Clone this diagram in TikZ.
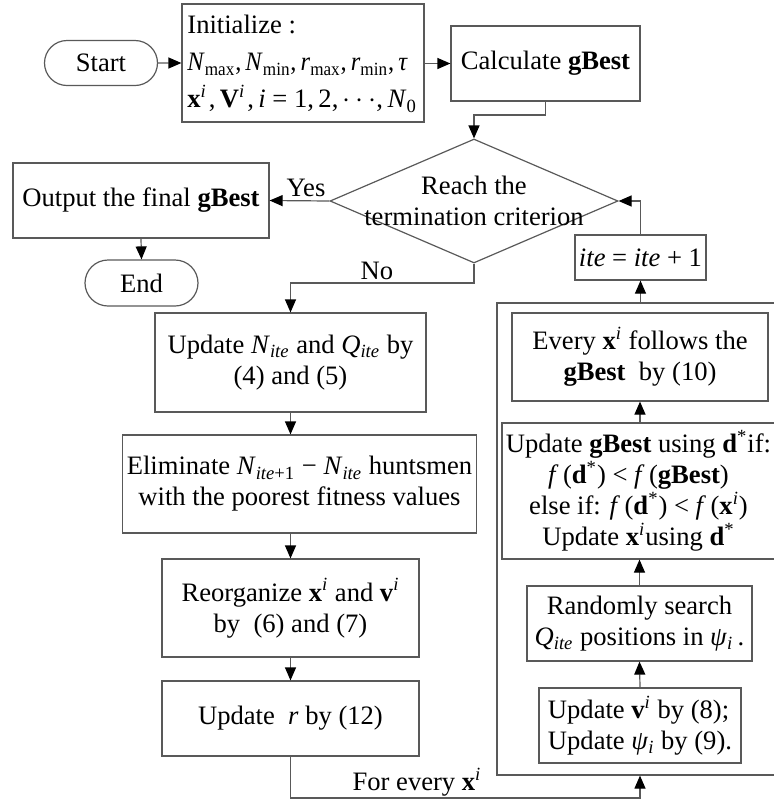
\documentclass[tikz,border=0pt]{standalone}
\usepackage{fontspec}
\usepackage{graphicx}
\setmainfont{Liberation Serif}
\usetikzlibrary{arrows.meta,shapes.misc,shapes.geometric}

% inline notation helpers
\newcommand{\mi}[1]{\textit{#1}}
\newcommand{\bx}{\textbf{x}}
\newcommand{\sps}[1]{\textsuperscript{#1}}
\newcommand{\sbs}[1]{\textsubscript{#1}}

\tikzset{
  lines/.style={draw=black!65, line width=0.6pt},
  box/.style={lines, rectangle, inner sep=2pt, align=center},
  term/.style={lines, rounded rectangle, inner sep=0pt},
  arr/.style={lines, -{Triangle[length=6.5pt,width=5.5pt,color=black]}},
  lbl/.style={inner sep=0pt},
}

\begin{document}
\begin{tikzpicture}[x=0.5pt, y=-0.5pt,
  every node/.append style={font=\fontsize{13.3}{15.5}\selectfont}]
\useasboundingbox (0,0) rectangle (774,804);
\clip (0,0) rectangle (774,804);

% top row
\node[term, minimum width=56.5pt, minimum height=22.5pt] (start) at (101,63) {Start};
\node[lines, rectangle, minimum width=121pt, minimum height=59pt, inner sep=0pt] (init) at (303,63) {};
\node[lbl, anchor=west, align=left] (initt) at (187,64)
  {Initialize :\\[3pt]
   \scalebox{0.92}[1]{\mi{N}\sbs{max},\,\mi{N}\sbs{min},\,\mi{r}\sbs{max},\,\mi{r}\sbs{min},\,\mi{τ}}\\[3pt]
   \bx\sps{\mi{i}}\kern1pt,\,\textbf{V}\sps{\mi{i}}\kern1pt,\,\mi{i} = 1,\,2,\,$\cdots$,\,\mi{N}\sbs{0}};
\node[box, minimum width=94.5pt, minimum height=37.5pt] (calc) at (545.5,63.5) {Calculate \textbf{gBest}};

% decision
\node[lines, diamond, minimum width=144pt, minimum height=62pt, inner sep=0pt] (dec) at (474,201) {};
\node[lbl, align=center] (dect) at (474,201) {Reach the\\termination criterion};

% exit branch
\node[box, minimum width=128pt, minimum height=37.5pt] (out) at (141,200.5) {Output the final \textbf{gBest}};
\node[term, minimum width=56.5pt, minimum height=23pt] (end) at (141.5,283) {End};

% left column
\node[box, minimum width=135.5pt, minimum height=49.5pt] (upd) at (290.5,362.5)
  {Update \mi{N}\sbs{\mi{ite}} and \mi{Q}\sbs{\mi{ite}} by\\(4) and (5)};
\node[box, minimum width=166.5pt, minimum height=49pt] (elim) at (299.5,484)
  {Eliminate \mi{N}\sbs{\mi{ite}+1} − \mi{N}\sbs{\mi{ite}} huntsmen\\with the poorest fitness values};
\node[box, minimum width=128.5pt, minimum height=49pt] (reorg) at (290.5,608)
  {Reorganize \bx\sps{\mi{i}} and \textbf{v}\sps{\mi{i}}\\by~ (6) and (7)};
\node[box, minimum width=128.5pt, minimum height=37.5pt] (updr) at (290.5,718.5)
  {Update~ \mi{r} by (12)};

% loop body
\node[lines, rectangle, minimum width=151.5pt, minimum height=236pt, inner sep=0pt] (loop) at (648.5,539) {};
\node[box, minimum width=62.5pt, minimum height=22.5pt] (ite) at (640.5,257.5) {\mi{ite} = \mi{ite} + 1};
\node[box, minimum width=128pt, minimum height=44pt] (every) at (640,357)
  {Every \bx\sps{\mi{i}} follows the\\\textbf{gBest}~ by (10)};
\node[box, minimum width=135.5pt, minimum height=68pt] (gbu) at (638.5,491)
  {Update \textbf{gBest} using \textbf{d}\sps{*}if:\\
   \mi{f}\,(\textbf{d}\sps{*}) < \mi{f}\,(\textbf{gBest})\\
   else if: \mi{f}\,(\textbf{d}\sps{*}) < \mi{f}\,(\bx\sps{\mi{i}})\\
   Update \bx\sps{\mi{i}}using \textbf{d}\sps{*}};
\node[box, minimum width=112.5pt, minimum height=37.5pt] (rand) at (639.5,623.5)
  {Randomly search\\\mi{Q}\sbs{\mi{ite}} positions in \mi{ψ}\sbs{\mi{i}}\,.};
\node[box, align=left, minimum width=101pt, minimum height=37.5pt] (updv) at (640,725.5)
  {Update \textbf{v}\sps{\mi{i}} by (8);\\Update \mi{ψ}\sbs{\mi{i}} by (9).};

% junction points
\coordinate (j1) at (545.5,115);
\coordinate (j2) at (474,283);
\coordinate (j3) at (640,798);

% connectors
\draw[arr] (start) -- (init);
\draw[arr] (init.east |- calc.west) -- (calc.west);
\draw[arr] (calc.south) -- (j1) -| (dec.north);
\draw[arr] (dec.west) -- (out.east);
\node[lbl] (yes) at (306,188) {Yes};
\draw[arr] (out.south) -- (end.north);
\draw[arr] (dec.south) -- (j2) -| (upd.north);
\node[lbl] (no) at (377,271) {No};
\draw[arr] (upd.south) -- (upd.south |- elim.north);
\draw[arr] (reorg.north |- elim.south) -- (reorg.north);
\draw[arr] (reorg.south) -- (updr.north);
\draw[arr] (updr.south) |- (j3) -- (j3 |- loop.south);
\node[lbl] (each) at (417,782) {For every \bx\sps{\mi{i}}};
\draw[arr] (ite.south |- loop.north) -- (ite.south);
\draw[arr] (ite.north) |- (dec.east);
\draw[arr] (updv.north) -- (rand.south);
\draw[arr] (rand.north) -- (rand.north |- gbu.south);
\draw[arr] (every.south |- gbu.north) -- (every.south);
\end{tikzpicture}
\end{document}
